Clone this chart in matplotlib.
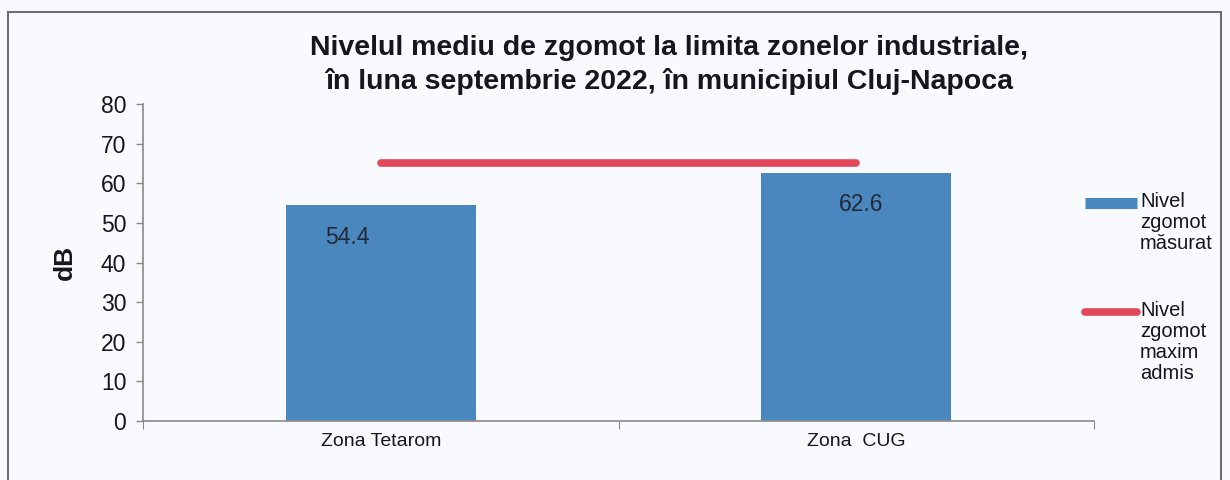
"""Average noise level at the edge of industrial zones, Cluj-Napoca, Sept 2022."""

import matplotlib
matplotlib.use("Agg")
import matplotlib.pyplot as plt
from matplotlib.patches import Rectangle
from matplotlib.lines import Line2D

zones = ["Zona Tetarom", "Zona  CUG"]
measured_db = [54.4, 62.6]
max_allowed_db = [65, 65]
y_ticks = [0, 10, 20, 30, 40, 50, 60, 70, 80]
legend_labels = ["Nivel\nzgomot\nmăsurat", "Nivel\nzgomot\nmaxim\nadmis"]

BAR_COLOR = "#4a87bf"
LIMIT_COLOR = "#e2475b"
TEXT_COLOR = "#161620"
AXIS_COLOR = "#8a8a8a"

plt.rcParams["font.family"] = ["Liberation Sans", "DejaVu Sans"]

W, H = 1230, 480
fig = plt.figure(figsize=(W / 100, H / 100), dpi=100)
fig.patch.set_facecolor("#f8fafd")


def fx(px):
    return px / W


def fy(py):
    return 1 - py / H


# frame around the whole chart area
fig.patches.append(Rectangle((fx(8), -0.1), fx(1213), 1.1 - 12 / H,
                             transform=fig.transFigure, fill=False,
                             edgecolor="#6f6f6f", linewidth=1.5))

ax = fig.add_axes([fx(143), fy(421), fx(1094 - 143), (421 - 104) / H])
ax.set_facecolor("none")

x = list(range(len(zones)))
ax.bar(x, measured_db, width=0.40, color=BAR_COLOR, zorder=2)
ax.plot(x, max_allowed_db, color=LIMIT_COLOR, linewidth=5.5,
        solid_capstyle="round", zorder=3)

# value labels sit inside the bars, a little below the top
label_shift = [-0.07, 0.01]
for xi, v, dx in zip(x, measured_db, label_shift):
    ax.text(xi + dx, v - 8, f"{v:.1f}", ha="center", va="center",
            fontsize=16.5, color="#222a36", zorder=4)

ax.set_xlim(-0.5, 1.5)
ax.set_ylim(0, 80)
ax.set_yticks(y_ticks)
ax.tick_params(axis="y", labelsize=16.5, colors=AXIS_COLOR, labelcolor=TEXT_COLOR,
               length=5, width=1, pad=7)

# category labels centred between boundary ticks
ax.set_xticks([-0.5, 0.5, 1.5])
ax.set_xticklabels([])
ax.set_xticks(x, minor=True)
ax.set_xticklabels(zones, minor=True, fontsize=14, color=TEXT_COLOR)
ax.tick_params(axis="x", which="major", length=6, colors=AXIS_COLOR)
ax.tick_params(axis="x", which="minor", length=0, pad=9)

for side in ("top", "right"):
    ax.spines[side].set_visible(False)
for side in ("left", "bottom"):
    ax.spines[side].set_color(AXIS_COLOR)
    ax.spines[side].set_linewidth(1.2)

ax.set_ylabel("dB", fontsize=19, fontweight="bold", color=TEXT_COLOR, labelpad=17)

fig.text(fx(669), fy(65), "Nivelul mediu de zgomot la limita zonelor industriale,\n"
         "în luna septembrie 2022, în municipiul Cluj-Napoca",
         ha="center", va="center", fontsize=20.5, fontweight="bold",
         color=TEXT_COLOR, linespacing=1.3)

# legend: handle sits beside the first line of each label
legend_items = [
    (legend_labels[0], BAR_COLOR, 8, "butt", 1085, 1137, 203),
    (legend_labels[1], LIMIT_COLOR, 5.5, "round", 1085, 1137, 312),
]
for text, color, lw, cap, x0, x1, yc in legend_items:
    fig.add_artist(Line2D([fx(x0), fx(x1)], [fy(yc), fy(yc)], color=color,
                          linewidth=lw, solid_capstyle=cap,
                          transform=fig.transFigure))
    fig.text(fx(1140), fy(yc - 11), text, ha="left", va="top", fontsize=14.5,
             color=TEXT_COLOR, linespacing=1.13)

fig.savefig("out.png", dpi=100, facecolor=fig.get_facecolor())
